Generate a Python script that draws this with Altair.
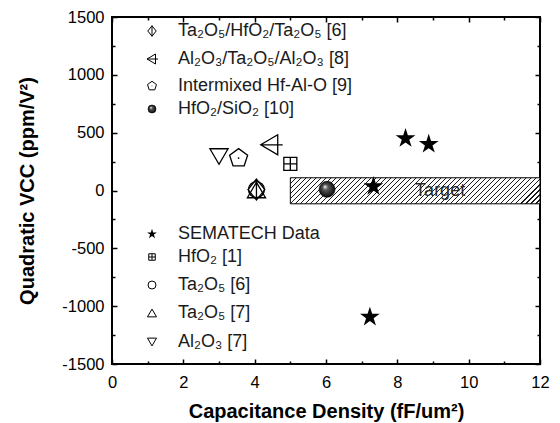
import altair as alt
import pandas as pd

# ---------------- data ----------------
STAR_X = [8.23, 8.88, 7.33, 7.23]          # SEMATECH Data
STAR_Y = [450, 400, 35, -1094]
HFO2_X = [5.0]                              # HfO2 [1]
HFO2_Y = [230]
ALTAAL_X = [4.45]                           # Al2O3/Ta2O5/Al2O3 [8]
ALTAAL_Y = [395]
HFALO_X = [3.55]                            # Intermixed Hf-Al-O [9]
HFALO_Y = [280]
AL2O3_X = [3.0]                             # Al2O3 [7]
AL2O3_Y = [294]
TAHFTA_X = [4.05]                           # Ta2O5/HfO2/Ta2O5 [6]
TAHFTA_Y = [8]
TA6_X = [4.05]                              # Ta2O5 [6]
TA6_Y = [8]
TA7_X = [4.05]                              # Ta2O5 [7]
TA7_Y = [4]
HFSIO_X = [6.03]                            # HfO2/SiO2 [10]
HFSIO_Y = [10]
TARGET_X = [5, 12]
TARGET_Y = [-115, 110]
TARGET_TEXT = "Target"
TARGET_TEXT_X = [9.2]
TARGET_TEXT_Y = [0]

X_MAJOR = [0, 2, 4, 6, 8, 10, 12]
X_MINOR = [1, 3, 5, 7, 9, 11]
Y_MAJOR = [-1500, -1000, -500, 0, 500, 1000, 1500]
Y_MINOR = [-1250, -750, -250, 250, 750, 1250]

X_TITLE = "Capacitance Density (fF/um²)"
Y_TITLE = "Quadratic VCC (ppm/V²)"

TOP_LEGEND = ["Ta₂O₅/HfO₂/Ta₂O₅ [6]", "Al₂O₃/Ta₂O₅/Al₂O₃ [8]",
              "Intermixed Hf-Al-O [9]", "HfO₂/SiO₂ [10]"]
BOTTOM_LEGEND = ["SEMATECH Data", "HfO₂ [1]", "Ta₂O₅ [6]", "Ta₂O₅ [7]", "Al₂O₃ [7]"]

# ---------------- layout / style ----------------
FONT = "Liberation Sans"
W, H = 428, 347
PAD_L, PAD_T = 112, 17
xs = alt.Scale(domain=[0, 12], nice=False, zero=False)
ys = alt.Scale(domain=[-1500, 1500], nice=False, zero=False)

STAR = ("M0,-1L0.2245,-0.309L0.951,-0.309L0.363,0.118L0.588,0.809L0,0.382"
        "L-0.588,0.809L-0.363,0.118L-0.951,-0.309L-0.2245,-0.309Z")
PENT = "M0,-1L0.951,-0.309L0.588,0.809L-0.588,0.809L-0.951,-0.309Z"
SQX = "M-1,-1L1,-1L1,1L-1,1Z M0,-1L0,1 M-1,0L1,0"
LTRI = "M0.7,-1L-1,0L0.7,1Z M-1,0L1.2,0"
DTRI = "M-1,-0.85L1,-0.85L0,0.85Z"
UTRI = "M-1,0.85L1,0.85L0,-0.85Z"
DIAM = "M0,-1L0.8,0L0,1L-0.8,0Z M0,-1L0,1"

SPHERE_FILL = alt.RadialGradient(
    gradient="radial",
    stops=[alt.GradientStop(color="#ffffff", offset=0),
           alt.GradientStop(color="#5a5a5a", offset=0.3),
           alt.GradientStop(color="#000000", offset=1)],
    x1=0.36, y1=0.32, r1=0, x2=0.5, y2=0.5, r2=0.55)


def sym(kind, scale):
    """list of mark_point kwargs for a symbol kind; scale multiplies sizes."""
    sw = 1.3 if scale > 0.5 else 1.0
    if kind == "star":
        return [dict(shape=STAR, filled=True, color="black", size=430 * scale)]
    if kind == "sq":
        return [dict(shape=SQX, filled=False, color="black", strokeWidth=sw, size=169 * scale)]
    if kind == "ltri":
        return [dict(shape=LTRI, filled=False, color="black", strokeWidth=sw, size=400 * scale)]
    if kind == "pent":
        return [dict(shape=PENT, filled=False, color="black", strokeWidth=sw, size=360 * scale),
                dict(shape="circle", filled=True, color="black", size=3 if scale > 0.5 else 0.8)]
    if kind == "dtri":
        return [dict(shape=DTRI, filled=False, color="black", strokeWidth=sw, size=330 * scale)]
    if kind == "utri":
        return [dict(shape=UTRI, filled=False, color="black", strokeWidth=sw, size=330 * scale)]
    if kind == "circle":
        return [dict(shape="circle", filled=False, color="black", strokeWidth=sw, size=256 * scale)]
    if kind == "diam":
        return [dict(shape=DIAM, filled=False, color="black", strokeWidth=sw, size=441 * scale)]
    if kind == "sphere":
        return [dict(shape="circle", filled=True, fill=SPHERE_FILL, stroke="black",
                     strokeWidth=0.6, size=256 * scale)]
    return []


def xy(xvals, yvals):
    return pd.DataFrame({"x": xvals, "y": yvals})


def pos(xaxis=None, yaxis=None):
    return dict(x=alt.X("x:Q", scale=xs, axis=xaxis),
                y=alt.Y("y:Q", scale=ys, axis=yaxis))


layers = []

# ---- axes (carried by invisible layers) ----
ax_common = dict(grid=False, domain=False, tickColor="black", tickWidth=1.5,
                 labelFlush=False, labelOverlap=False, labelBound=False,
                 labelColor="black", labelFont=FONT, labelFontSize=16.5,
                 labelExpr="datum.value + ''",
                 titleFont=FONT, titleFontSize=20, titleFontWeight="bold",
                 titleColor="black")
axis_sets = [
    (alt.Axis(orient="bottom", values=X_MAJOR, tickSize=5, offset=-5, labelPadding=10,
              title=X_TITLE, titlePadding=11, **ax_common),
     alt.Axis(orient="left", values=Y_MAJOR, tickSize=5, offset=-5, labelPadding=8,
              title=Y_TITLE, titlePadding=24, **ax_common)),
    (alt.Axis(orient="bottom", values=X_MINOR, tickSize=3, offset=-3, labels=False, title="", **ax_common),
     alt.Axis(orient="left", values=Y_MINOR, tickSize=3, offset=-3, labels=False, title="", **ax_common)),
    (alt.Axis(orient="top", values=X_MAJOR, tickSize=5, offset=-5, labels=False, title="", **ax_common),
     alt.Axis(orient="right", values=Y_MAJOR, tickSize=5, offset=-5, labels=False, title="", **ax_common)),
    (alt.Axis(orient="top", values=X_MINOR, tickSize=3, offset=-3, labels=False, title="", **ax_common),
     alt.Axis(orient="right", values=Y_MINOR, tickSize=3, offset=-3, labels=False, title="", **ax_common)),
]
for xa, ya in axis_sets:
    layers.append(alt.Chart(xy(STAR_X, STAR_Y)).mark_point(opacity=0).encode(**pos(xa, ya)))

# ---- hatched target box (diagonal hatch via a striped linear gradient) ----
bw = (TARGET_X[1] - TARGET_X[0]) / 12 * W
bh = (TARGET_Y[1] - TARGET_Y[0]) / 3000 * H
lam = (bw + bh) / (bw * bw + bh * bh)
n_str = int(round((bw + bh) / 5.0))
frac = 0.25
stops = []
for i in range(n_str):
    a = i / n_str
    b = (i + frac) / n_str
    c = (i + 1) / n_str
    stops += [alt.GradientStop(color="#1a1a1a", offset=round(a, 5)),
              alt.GradientStop(color="#1a1a1a", offset=round(b, 5)),
              alt.GradientStop(color="#ffffff", offset=round(b, 5)),
              alt.GradientStop(color="#ffffff", offset=round(c, 5))]
HATCH = alt.LinearGradient(gradient="linear", stops=stops,
                           x1=0, y1=0, x2=round(lam * bw, 5), y2=round(lam * bh, 5))

box = pd.DataFrame({"x": [TARGET_X[0]], "x2": [TARGET_X[1]],
                    "y": [TARGET_Y[0]], "y2": [TARGET_Y[1]]})
layers.append(alt.Chart(box).mark_rect(fill=HATCH, stroke="black", strokeWidth=1).encode(
    x=alt.X("x:Q", scale=xs, axis=None), x2="x2:Q",
    y=alt.Y("y:Q", scale=ys, axis=None), y2="y2:Q"))
layers.append(alt.Chart(xy(TARGET_TEXT_X, TARGET_TEXT_Y)).mark_text(
    text=TARGET_TEXT, font=FONT, fontSize=18, color="#2a2a2a", align="center",
    baseline="middle").encode(**pos()))

# ---- data markers ----
series = [
    (TAHFTA_X, TAHFTA_Y, "diam"),
    (TA6_X, TA6_Y, "circle"),
    (TA7_X, TA7_Y, "utri"),
    (AL2O3_X, AL2O3_Y, "dtri"),
    (HFALO_X, HFALO_Y, "pent"),
    (ALTAAL_X, ALTAAL_Y, "ltri"),
    (HFO2_X, HFO2_Y, "sq"),
    (HFSIO_X, HFSIO_Y, "sphere"),
    (STAR_X, STAR_Y, "star"),
]
for xv, yv, kind in series:
    for kw in sym(kind, 1.0):
        layers.append(alt.Chart(xy(xv, yv)).mark_point(opacity=1, **kw).encode(**pos()))

# ---- legends (drawn as text + symbols) ----
one = pd.DataFrame({"k": [0]})
LEG_SYM_X, LEG_TXT_X = 152, 178
top_rows_y = [31, 59, 86, 109]
top_kinds = ["diam", "ltri", "pent", "sphere"]
bot_rows_y = [234, 257, 285, 313, 342]
bot_kinds = ["star", "sq", "circle", "utri", "dtri"]
for labels, rows, kinds in [(TOP_LEGEND, top_rows_y, top_kinds),
                            (BOTTOM_LEGEND, bot_rows_y, bot_kinds)]:
    for lab, ry, kind in zip(labels, rows, kinds):
        for kw in sym(kind, 0.25):
            layers.append(alt.Chart(one).mark_point(opacity=1, **kw).encode(
                x=alt.value(LEG_SYM_X - PAD_L), y=alt.value(ry - PAD_T)))
        layers.append(alt.Chart(one).mark_text(
            text=lab, font=FONT, fontSize=18, color="#1a1a1a", align="left",
            baseline="middle").encode(x=alt.value(LEG_TXT_X - PAD_L), y=alt.value(ry - PAD_T)))

chart = alt.layer(*layers).resolve_axis(x="independent", y="independent").properties(
    width=W, height=H, autosize="none",
    padding={"left": PAD_L, "top": PAD_T, "right": 560 - PAD_L - W, "bottom": 423 - PAD_T - H},
    background="white",
).configure(font=FONT).configure_view(stroke="black", strokeWidth=2)

chart.save("out.html", embed_options={"renderer": "svg", "actions": False})
